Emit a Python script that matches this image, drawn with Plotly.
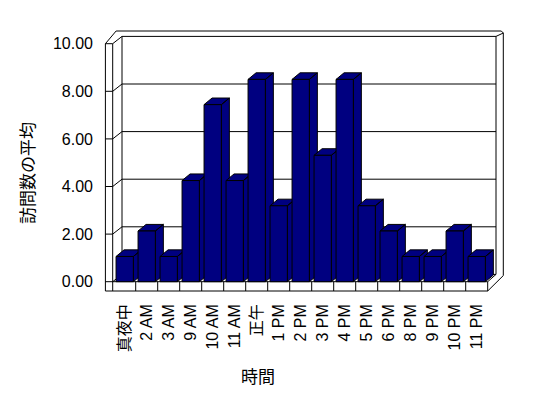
import plotly.graph_objects as go

# ---------------- data ----------------
categories = ["真夜中", "2 AM", "3 AM", "9 AM", "10 AM", "11 AM", "正午", "1 PM",
              "2 PM", "3 PM", "4 PM", "5 PM", "6 PM", "8 PM", "9 PM", "10 PM", "11 PM"]
values = [1.06, 2.13, 1.06, 4.25, 7.44, 4.25, 8.50, 3.19, 8.50, 5.31, 8.50,
          3.19, 2.13, 1.06, 1.06, 2.13, 1.06]
y_ticks = [0, 2, 4, 6, 8, 10]
y_tick_labels = ["0.00", "2.00", "4.00", "6.00", "8.00", "10.00"]
x_title = "時間"
y_title = "訪問数の平均"

# ---------------- layout geometry ----------------
W, H = 548, 398
PX_CAT = 22.0      # pixels per category
PX_VAL = 23.8      # pixels per value unit
X0_PX = 113.7      # left edge of first category (front plane)
Y0_PX = 281.7      # value 0 on the front plane
x_range = [(0 - X0_PX) / PX_CAT - 0.5, (W - X0_PX) / PX_CAT - 0.5]
y_range = [(Y0_PX - H) / PX_VAL, Y0_PX / PX_VAL]

n = len(categories)
L, R = -0.5, n - 0.5
VMAX = 10
DX, DY = 8.3 / PX_CAT, 7.3 / PX_VAL          # depth of the floor / walls
BDX, BDY = 8.0 / PX_CAT, 6.6 / PX_VAL        # depth of the bars
BW = 17.3 / PX_CAT                           # bar front width
LW_IN = L - 1.0 / PX_CAT                     # left wall inner front edge
LW_OUT = LW_IN - 7.3 / PX_CAT                # left wall outer front edge
FLOOR_BOT = -9.3 / PX_VAL                    # bottom of floor slab
TBH, TBV = 7.3 / PX_CAT, 5.4 / PX_VAL        # back wall thickness

NAVY = "#000080"

shapes = []


def seg(x0, y0, x1, y1):
    shapes.append(dict(type="line", xref="x", yref="y", x0=x0, y0=y0, x1=x1, y1=y1,
                       line=dict(color="black", width=1), layer="below"))


# back wall inner edges
seg(L + DX, DY, L + DX, VMAX + DY)
seg(R + DX, DY, R + DX, VMAX + DY)
seg(L + DX, VMAX + DY, R + DX, VMAX + DY)
# back wall outer edges
top_out = VMAX + DY + TBV
seg(LW_OUT + 10.7 / PX_CAT, top_out, R + DX + TBH - 2 / PX_CAT, top_out)
seg(R + DX + TBH - 2 / PX_CAT, top_out, R + DX + TBH, top_out - 2 / PX_VAL)
seg(R + DX + TBH, top_out - 2 / PX_VAL, R + DX + TBH, DY - 0.05)
seg(R + DX, VMAX + DY, R + DX + TBH, top_out - 2 / PX_VAL)
# grid lines on back wall and ticks on left wall
for v in y_ticks:
    if 0 < v < VMAX:
        seg(L + DX, v + DY, R + DX, v + DY)
    seg(LW_OUT, v, LW_IN, v)
    seg(LW_IN, v, L + DX, v + DY)
# left wall front face and top
seg(LW_OUT, FLOOR_BOT, LW_OUT, VMAX)
seg(LW_IN, FLOOR_BOT, LW_IN, VMAX)
seg(LW_OUT, VMAX, LW_OUT + 10.7 / PX_CAT, top_out)
# floor front face
seg(LW_OUT, FLOOR_BOT, R, FLOOR_BOT)
seg(LW_IN, 0, R, 0)
for k in range(1, n + 1):
    seg(k - 0.5, FLOOR_BOT, k - 0.5, 0)
# floor back edge and right side
seg(L + DX, DY, R + DX, DY)
seg(R, 0, R + DX, DY)
seg(R, FLOOR_BOT, R + DX + TBH, DY - 0.05)

fig = go.Figure()

# top and side faces of the bars (behind the front faces)
for i, v in enumerate(values):
    xl, xr = i - BW / 2, i + BW / 2
    xs = [xl, xr, xr + BDX, xl + BDX, xl, None, xr, xr + BDX, xr + BDX, xr, xr]
    ys = [v, v, v + BDY, v + BDY, v, None, 0, BDY, v + BDY, v, 0]
    fig.add_trace(go.Scatter(x=xs, y=ys, mode="lines", fill="toself",
                             fillcolor=NAVY, line=dict(color="black", width=1),
                             hoverinfo="skip", showlegend=False,
                             xaxis="x", yaxis="y"))

# front faces of the bars on an overlaying subplot (drawn on top)
fig.add_trace(go.Bar(x=list(range(n)), y=values, width=BW,
                     marker=dict(color=NAVY, line=dict(color="black", width=1)),
                     showlegend=False, xaxis="x2", yaxis="y2"))

font = dict(family="Liberation Sans, Arial, Noto Sans CJK JP", size=16, color="black")

fig.update_layout(
    width=W, height=H,
    margin=dict(l=0, r=0, t=0, b=0, pad=0),
    paper_bgcolor="white", plot_bgcolor="white",
    font=font,
    shapes=shapes,
    xaxis=dict(range=x_range, domain=[0, 1], anchor="free", position=1 - 291 / H,
               tickmode="array", tickvals=list(range(n)), ticktext=categories,
               tickangle=-90, ticks="", showgrid=False, zeroline=False,
               showline=False, ticklabelstandoff=9, tickfont=font, fixedrange=True),
    yaxis=dict(range=y_range, domain=[0, 1], anchor="free", position=105 / W,
               side="left", tickmode="array", tickvals=y_ticks, ticktext=y_tick_labels,
               ticks="", showgrid=False, zeroline=False, showline=False,
               ticklabelstandoff=12, tickfont=font, fixedrange=True),
    xaxis2=dict(range=x_range, overlaying="x", visible=False, fixedrange=True),
    yaxis2=dict(range=y_range, overlaying="y", visible=False, fixedrange=True),
    annotations=[
        dict(text=y_title, xref="paper", yref="paper", x=26 / W, y=1 - 173 / H,
             textangle=-90, showarrow=False, xanchor="center", yanchor="middle",
             font=dict(family="Noto Sans CJK JP", size=17, color="black")),
        dict(text=x_title, xref="paper", yref="paper", x=258 / W, y=1 - 375.5 / H,
             showarrow=False, xanchor="center", yanchor="middle",
             font=dict(family="Noto Sans CJK JP", size=17, color="black")),
    ],
)

fig.write_html("out.html")
